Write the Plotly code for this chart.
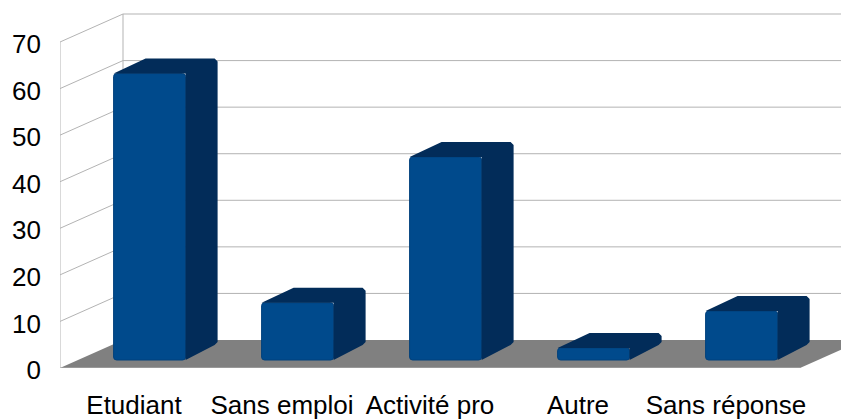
"""3D-look column chart drawn on flat Plotly axes."""
import plotly.graph_objects as go

categories = ['Etudiant', 'Sans emploi', 'Activité pro', 'Autre', 'Sans réponse']
values = [61.5, 12.3, 43.6, 2.6, 10.5]
y_ticks = [0, 10, 20, 30, 40, 50, 60, 70]

FRONT = '#004a8c'
EDGE = '#00407c'
DARK = '#022c59'
FLOOR = '#808080'
GRID = '#b3b3b3'
FONT = '"Liberation Sans", Arial, sans-serif'

# pixels per data unit, plot box is 789 x 360 px (the page body adds 8 px)
PX_X = 148.0
PX_Y = 4.657
X_RANGE = [-0.5, -0.5 + 789 / PX_X]
Y_RANGE = [0, 360 / PX_Y]

# chart box depth and bar depth, in data units
DEPTH_X = 63 / PX_X
DEPTH_Y = 28 / PX_Y
BAR_SHIFT = 15.6 / PX_X
BAR_WIDTH = 72 / PX_X
BAR_BASE = 8 / PX_Y
BAR_DX = 32 / PX_X
BAR_DY = 15 / PX_Y
CUT_X = 3 / PX_X
CUT_Y = 3 / PX_Y

fig = go.Figure()

# floor
x_left, x_right = -0.5, 4.5
fig.add_trace(go.Scatter(
    x=[x_left, x_left + DEPTH_X, x_right + DEPTH_X, x_right, x_left],
    y=[0, DEPTH_Y, DEPTH_Y, 0, 0],
    mode='lines', fill='toself', fillcolor=FLOOR, line=dict(width=0),
    hoverinfo='skip', showlegend=False,
))

# grid lines run along the left wall and then the back wall
grid_x, grid_y = [], []
for t in y_ticks[1:]:
    grid_x += [x_left, x_left + DEPTH_X, x_right + DEPTH_X, None]
    grid_y += [t, t + DEPTH_Y, t + DEPTH_Y, None]
top = y_ticks[-1]
grid_x += [x_left, x_left, None, x_left + DEPTH_X, x_left + DEPTH_X, None, x_left, x_right]
grid_y += [0, top, None, DEPTH_Y, top + DEPTH_Y, None, 0, 0]
fig.add_trace(go.Scatter(
    x=grid_x, y=grid_y, mode='lines', line=dict(color=GRID, width=1),
    cliponaxis=False, hoverinfo='skip', showlegend=False,
))

# front faces
fig.add_trace(go.Bar(
    x=[i + BAR_SHIFT for i in range(len(values))],
    y=values,
    base=BAR_BASE,
    width=BAR_WIDTH,
    marker=dict(color=FRONT, line=dict(color=EDGE, width=1), cornerradius=3),
    xaxis='x2', yaxis='y2', showlegend=False,
))

# top and side faces
for i, v in enumerate(values):
    x0 = i + BAR_SHIFT - BAR_WIDTH / 2
    x1 = i + BAR_SHIFT + BAR_WIDTH / 2
    y0 = BAR_BASE
    y1 = BAR_BASE + v
    fig.add_trace(go.Scatter(
        x=[x0, x0 + BAR_DX,
           x1 + BAR_DX - CUT_X, x1 + BAR_DX, x1 + BAR_DX,
           x1 + BAR_DX - CUT_X, x1, x1, x0],
        y=[y1, y1 + BAR_DY,
           y1 + BAR_DY, y1 + BAR_DY - CUT_Y, y0 + BAR_DY + CUT_Y,
           y0 + BAR_DY, y0, y1, y1],
        mode='lines', fill='toself', fillcolor=DARK, line=dict(width=0),
        xaxis='x2', yaxis='y2', hoverinfo='skip', showlegend=False,
    ))

fig.update_layout(
    width=841, height=411,
    margin=dict(l=52, r=0, t=0, b=51),
    paper_bgcolor='white', plot_bgcolor='white',
    font=dict(family=FONT, size=26, color='#000000'),
    xaxis=dict(
        range=X_RANGE, tickvals=list(range(len(categories))), ticktext=categories,
        showgrid=False, zeroline=False, showline=False, ticks='',
        ticklabelstandoff=19, tickangle=0,
    ),
    yaxis=dict(
        range=Y_RANGE, tickvals=y_ticks, showgrid=False, zeroline=False,
        showline=False, ticks='', ticklabelstandoff=18, ticklabelshift=2,
    ),
    xaxis2=dict(range=X_RANGE, overlaying='x', visible=False),
    yaxis2=dict(range=Y_RANGE, overlaying='y', visible=False),
)

fig.write_html("out.html")
